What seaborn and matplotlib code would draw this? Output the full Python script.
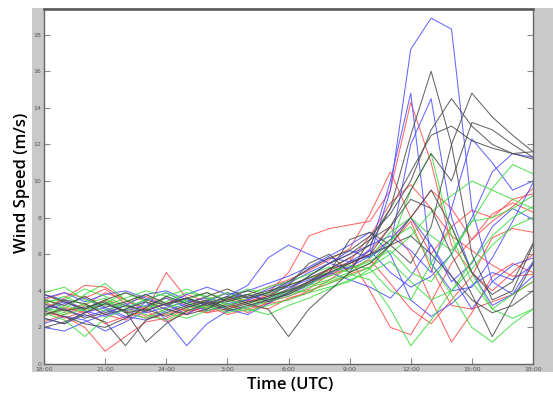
import numpy as np
import pandas as pd
import seaborn as sns
import matplotlib
matplotlib.use("Agg")
import matplotlib.pyplot as plt

# ---- data (hours after 18:00 UTC, hourly) ----
hours = list(range(25))
tick_hours = [0, 3, 6, 9, 12, 15, 18, 21, 24]
tick_labels = ["18:00", "21:00", "24:00", "3:00", "6:00", "9:00", "12:00", "15:00", "18:00"]
y_ticks = [0, 2, 4, 6, 8, 10, 12, 14, 16, 18]

red_members = [
    [3.0,3.6,4.3,4.2,3.5,3.0,3.3,3.8,3.4,3.1,3.6,3.9,5.0,7.0,7.4,7.6,7.8,9.5,14.3,11.0,6.5,5.0,4.0,5.0,6.0],
    [2.8,2.6,2.0,0.7,1.5,2.3,2.5,3.0,2.8,3.2,3.5,3.3,3.9,4.4,4.8,5.5,6.0,6.8,8.0,9.5,8.5,6.8,7.8,8.6,9.6],
    [2.3,2.7,3.2,3.9,3.5,2.9,5.0,3.6,2.9,3.3,2.8,3.4,3.7,4.1,4.9,5.2,5.7,4.4,3.0,2.2,3.5,4.8,6.9,7.4,7.2],
    [3.8,3.4,3.0,3.5,3.2,2.6,3.0,2.7,3.3,3.6,3.2,3.0,3.6,3.9,4.6,5.3,6.2,7.5,6.0,3.5,1.2,2.8,4.8,5.5,5.0],
    [3.4,2.9,3.3,2.7,2.4,3.1,3.6,3.2,2.8,3.0,3.4,3.7,4.0,4.5,5.2,5.8,4.0,2.0,1.6,3.4,5.5,6.8,8.2,8.8,8.3],
    [2.6,3.1,2.8,3.3,2.9,2.5,2.7,3.1,3.5,3.9,3.4,3.8,4.3,4.7,5.1,5.6,7.0,8.8,9.8,8.5,7.0,6.2,5.4,4.8,4.9],
    [3.1,2.5,2.9,2.2,2.6,2.9,2.3,2.8,3.2,2.7,3.0,3.3,3.5,4.0,4.4,4.9,5.3,6.5,7.8,5.2,3.2,3.0,3.4,3.8,4.5],
    [3.5,3.9,3.6,4.1,3.3,3.7,3.2,2.9,3.1,3.5,3.8,4.2,4.6,5.1,5.7,6.3,8.2,10.5,8.0,6.0,7.5,8.4,8.0,9.0,9.3],
]
blue_members = [
    [3.2,3.0,2.6,2.9,3.3,2.8,3.1,3.4,3.6,3.3,3.5,3.9,4.2,4.6,5.0,5.3,5.9,9.5,17.2,18.9,18.3,8.5,4.5,3.8,4.8],
    [2.5,2.2,2.8,3.1,2.6,2.4,2.9,3.3,3.0,3.6,3.8,3.5,4.0,4.8,5.5,5.2,6.3,10.0,14.8,5.5,4.0,4.2,5.8,7.8,9.9],
    [3.8,3.5,3.0,3.3,2.9,3.2,3.6,3.1,3.4,3.9,3.6,4.1,4.5,5.2,5.8,5.6,5.9,6.5,12.0,14.5,8.0,5.0,3.2,3.8,5.6],
    [2.0,1.8,2.3,2.7,3.2,3.8,4.0,3.5,3.2,3.7,4.3,5.8,6.5,6.0,5.5,6.2,5.8,6.8,8.0,6.5,4.5,5.5,7.5,8.5,7.9],
    [2.9,3.3,3.6,3.0,2.5,3.4,2.4,1.0,2.2,2.9,3.1,3.5,3.8,4.3,5.0,4.6,4.2,3.6,4.8,6.5,4.8,3.0,4.5,5.4,5.8],
    [3.0,3.4,2.9,2.6,3.0,3.5,3.9,3.3,2.9,3.2,3.5,3.9,4.4,5.0,5.5,6.0,6.5,7.0,6.2,5.0,8.5,12.3,11.0,9.5,10.0],
    [2.2,2.6,2.4,1.8,2.3,2.9,3.3,2.7,3.4,3.0,2.7,3.3,3.9,4.5,4.9,5.6,6.2,5.0,4.2,4.8,6.0,8.0,10.5,11.5,11.3],
    [3.6,3.9,3.4,3.8,4.0,3.6,3.2,3.8,4.2,3.8,4.0,4.4,4.8,5.3,5.9,6.5,7.2,6.0,3.5,2.6,3.3,4.3,5.0,4.6,5.4],
]
green_members = [
    [3.6,3.0,3.8,4.4,3.5,3.1,3.4,3.9,3.7,3.2,3.6,3.9,4.3,4.7,5.0,5.4,5.2,6.5,9.5,11.5,7.0,4.5,3.0,2.5,3.0],
    [3.3,3.7,3.2,2.9,3.4,3.8,3.3,3.0,3.5,3.9,3.3,3.6,4.0,4.4,4.8,5.2,5.6,6.2,5.0,4.5,6.0,7.8,9.6,10.9,10.4],
    [2.8,2.4,1.5,2.5,3.0,2.7,2.4,2.9,3.2,2.8,3.1,3.4,3.7,4.2,4.5,4.9,4.6,3.0,1.0,2.4,4.0,5.6,7.0,8.0,8.6],
    [3.9,4.2,3.5,3.2,3.6,4.0,3.7,3.3,3.0,3.4,3.8,4.2,4.5,4.9,5.3,5.0,5.5,6.8,7.5,5.5,3.8,2.0,1.2,2.2,3.0],
    [3.1,2.8,3.3,3.6,2.8,2.5,3.0,3.5,3.9,3.5,3.2,3.5,3.9,4.0,4.4,4.8,5.3,6.0,7.0,8.3,9.2,10.0,9.5,9.0,8.5],
    [2.6,3.2,2.9,3.3,3.9,3.4,2.8,2.5,2.9,3.3,3.0,2.7,3.2,3.6,4.1,4.6,5.0,5.6,4.5,3.5,4.0,5.2,6.5,7.5,8.0],
    [3.4,3.5,4.1,3.7,3.2,2.9,3.7,4.1,3.6,3.0,2.9,3.2,3.5,3.9,4.2,4.5,5.2,4.0,3.5,5.5,7.5,5.0,3.0,3.8,4.5],
    [3.0,2.7,3.0,3.4,3.1,3.5,3.9,3.4,3.1,3.6,4.1,3.8,4.0,4.3,4.6,5.0,5.8,7.2,8.0,7.0,6.2,7.8,8.0,8.5,9.2],
]
black_members = [
    [2.7,3.0,2.5,2.8,3.2,2.9,3.3,3.6,3.2,3.5,3.8,3.4,3.9,4.5,5.2,5.8,6.5,8.5,12.5,16.0,12.0,6.0,3.5,4.0,6.5],
    [3.3,2.9,3.1,3.4,2.8,3.0,2.6,3.1,3.4,3.0,3.3,3.7,4.0,4.5,5.0,5.5,6.0,6.5,5.5,7.5,12.0,14.8,13.5,12.5,11.6],
    [2.5,2.2,2.7,2.3,1.0,2.4,2.8,3.2,3.5,3.1,3.4,3.6,4.1,4.8,5.5,6.0,6.8,7.5,9.5,11.5,10.0,13.2,12.8,12.0,11.3],
    [2.0,2.3,2.8,3.3,2.9,1.2,2.2,2.9,3.3,3.7,3.3,3.0,1.5,3.0,4.0,5.0,5.5,6.5,8.0,9.5,7.5,5.0,3.8,4.5,6.6],
    [3.5,3.2,3.7,3.1,3.4,3.8,3.3,3.6,3.9,3.4,3.7,4.0,4.3,4.7,5.2,5.5,6.0,7.5,9.0,8.5,6.0,3.8,1.5,3.5,5.5],
    [3.0,3.5,3.3,2.7,3.0,3.4,3.0,2.7,3.0,3.6,4.0,3.7,4.3,5.5,6.0,5.0,6.8,8.5,10.5,12.5,13.0,12.2,11.8,11.5,11.6],
    [3.8,3.4,3.0,3.5,3.9,3.5,3.2,3.6,3.3,2.9,3.2,3.5,3.8,4.4,5.0,6.8,7.2,6.5,7.0,6.0,4.8,3.5,2.8,3.2,4.0],
    [2.9,2.6,2.2,2.0,2.5,3.1,3.7,3.3,3.7,4.1,3.6,3.9,4.5,5.2,5.8,6.2,7.0,8.2,10.0,12.8,14.5,13.0,12.0,11.5,11.2],
]

groups = [
    ("red", "#ff4c4c", red_members),
    ("blue", "#4c4cff", blue_members),
    ("green", "#3cdc3c", green_members),
    ("black", "#4a4a4a", black_members),
]

rows = []
palette = {}
for gname, color, members in groups:
    for i, vals in enumerate(members):
        name = f"{gname}{i}"
        palette[name] = color
        for h, v in zip(hours, vals):
            rows.append({"hour": h, "speed": v, "member": name})
df = pd.DataFrame(rows)

W, H = 553, 394
fig = plt.figure(figsize=(W / 100, H / 100), dpi=100, facecolor="white")

# gray frame behind the plot area
bg = fig.add_axes([32 / W, (H - 372) / H, (W - 32) / W, (372 - 8) / H], zorder=0)
bg.set_facecolor("#c9c9c9")
bg.set_xticks([])
bg.set_yticks([])
for s in bg.spines.values():
    s.set_visible(False)

ax = fig.add_axes([44 / W, (H - 364) / H, (533 - 44) / W, (364 - 9) / H], zorder=1)
ax.set_facecolor("white")

sns.lineplot(data=df, x="hour", y="speed", hue="member",
             estimator=None, palette=palette, legend=False, ax=ax,
             linewidth=0.75, alpha=0.85, sort=False)

ax.set_xlim(0, 24)
ax.set_ylim(0, 19.4)
ax.set_xticks(tick_hours)
ax.set_xticklabels(tick_labels)
ax.set_yticks(y_ticks)
ax.set_yticklabels([str(t) for t in y_ticks])
ax.tick_params(axis="both", direction="in", length=4, width=0.8, color="#888888",
               labelsize=4.5, labelcolor="#555555", pad=2)
ax.tick_params(axis="y", right=True)
ax.set_xlabel("")
ax.set_ylabel("")

for side in ["left", "right", "bottom"]:
    ax.spines[side].set_color("#666666")
    ax.spines[side].set_linewidth(1.0)
ax.spines["top"].set_color("#555555")
ax.spines["top"].set_linewidth(1.8)

fig.text(22 / W, 0.535, "Wind Speed (m/s)", rotation=90, ha="center", va="center",
         fontsize=12, fontweight="semibold", family=["Open Sans", "DejaVu Sans"])
fig.text(290 / W, 9 / H, "Time (UTC)", ha="center", va="center",
         fontsize=12, fontweight="semibold", family=["Open Sans", "DejaVu Sans"])

fig.savefig("out.png", dpi=100, facecolor="white")
